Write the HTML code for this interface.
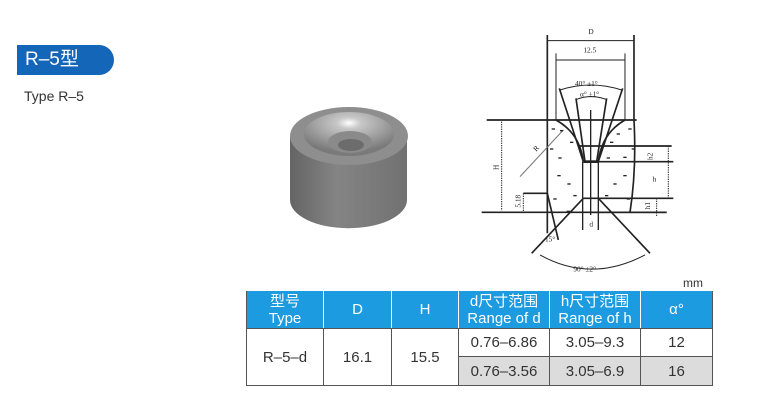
<!DOCTYPE html>
<html><head><meta charset="utf-8"><style>
html,body{margin:0;padding:0;background:#fff;width:780px;height:416px;overflow:hidden;position:relative;font-family:"Liberation Sans","Noto Sans CJK SC",sans-serif}
.badge{position:absolute;left:17px;top:45px;width:97px;height:30px;background:#1466b8;border-radius:0 16px 16px 0;color:#fff;font-size:19px;line-height:30px;padding-left:8px;box-sizing:border-box}
.sub{position:absolute;left:24px;top:88px;font-size:14px;color:#333}
table{position:absolute;left:246px;top:291px;border-collapse:collapse;font-size:15px;color:#333}
td{border:1px solid #555;text-align:center;padding:0}
th{background:#1d9be0;color:#fff;font-weight:normal;border:1px solid #fff;border-top:none;border-bottom:1px solid #555;font-size:15px;line-height:17px;height:37px;padding:0}
th:first-child{border-left:1px solid #555}th:last-child{border-right:1px solid #555}
.g{background:#dcdcdc}
.mm{position:absolute;left:683px;top:276px;font-size:12px;color:#333}
</style></head><body>
<div class="badge">R–5型</div>
<div class="sub">Type R–5</div>
<svg width="780" height="416" style="position:absolute;left:0;top:0">
<defs>
<linearGradient id="cy" x1="0" x2="1"><stop offset="0" stop-color="#646464"/><stop offset=".4" stop-color="#848484"/><stop offset="1" stop-color="#717171"/></linearGradient>
<radialGradient id="ins" cx=".5" cy=".25" r=".65"><stop offset="0" stop-color="#fff"/><stop offset=".2" stop-color="#c8c8c8"/><stop offset="1" stop-color="#7a7a7a"/></radialGradient>
</defs>
<path d="M290 136 L290 200 A58 28 0 0 0 407 200 L407 136 Z" fill="url(#cy)"/>
<ellipse cx="349" cy="136" rx="59" ry="29" fill="#8e8e8e"/>
<ellipse cx="349" cy="134" rx="45" ry="22" fill="url(#ins)"/>
<ellipse cx="350" cy="142" rx="22" ry="11" fill="#8a8a8a"/>
<ellipse cx="351" cy="145" rx="13" ry="6" fill="#6c6c6c"/>
<g transform="translate(470,20) scale(0.3333)" stroke="#222" stroke-width="5" fill="none">
<path d="M50 300H500M35 577H590M232 45V640M492 45V300M492 300 Q500 450 480 577"/>
<path d="M232 62H492M258 100V300M465 100V300M258 120H465" stroke-width="3"/>
<path d="M268 205L340 425M458 205L385 425M318 235L345 425M410 235L380 425"/>
<path d="M258 300Q330 340 340 425M465 300Q395 340 385 425"/>
<path d="M340 425H385" stroke-width="8"/>
<path d="M338 425V630M385 425V630M362 270V585" stroke-width="4"/>
<path d="M330 378H605M385 425H610M340 535H610M360 577H590"/>
<path d="M595 378V535M560 535V590M95 305V572M160 520V577" stroke-width="3" stroke-dasharray="4 3"/>
<path d="M340 535L185 700M385 535L540 700M160 520H232M232 520L265 660"/>
<path d="M210 705Q362 790 525 705" stroke-width="3"/>
<path d="M150 470L280 330" stroke-width="3" stroke="#777"/>
<path d="M270 210Q362 180 455 210M320 238Q362 222 408 238" stroke-width="3"/>
<g fill="#222" stroke="none" font-family="Liberation Serif" font-size="22">
<text x="355" y="42">D</text><text x="340" y="97">12.5</text>
<text x="315" y="198">40° ±1°</text><text x="330" y="230">α° ±1°</text>
<text x="65" y="450" transform="rotate(-90 75 440)">H</text>
<text x="190" y="395" transform="rotate(-45 195 385)">R</text>
<text x="525" y="412" transform="rotate(-90 540 405)">h2</text>
<text x="548" y="485">h</text>
<text x="522" y="560" transform="rotate(-90 535 555)">h1</text>
<text x="130" y="555" transform="rotate(-90 145 548)">5.18</text>
<text x="358" y="620">d</text><text x="225" y="665">15°</text>
<text x="310" y="755">90° ±2°</text>
<rect x="245" y="325" width="10" height="4"/><rect x="270" y="330" width="10" height="4"/><rect x="300" y="365" width="10" height="4"/><rect x="240" y="385" width="10" height="4"/><rect x="265" y="412" width="10" height="4"/><rect x="262" y="465" width="10" height="4"/><rect x="292" y="490" width="10" height="4"/><rect x="250" y="535" width="10" height="4"/><rect x="310" y="525" width="10" height="4"/><rect x="290" y="572" width="10" height="4"/><rect x="475" y="325" width="10" height="4"/><rect x="440" y="340" width="10" height="4"/><rect x="420" y="365" width="10" height="4"/><rect x="485" y="385" width="10" height="4"/><rect x="410" y="412" width="10" height="4"/><rect x="460" y="410" width="10" height="4"/><rect x="460" y="465" width="10" height="4"/><rect x="430" y="490" width="10" height="4"/><rect x="405" y="525" width="10" height="4"/><rect x="470" y="535" width="10" height="4"/>
</g></g>
</svg>
<div class="mm">mm</div>
<table>
<tr><th style="width:76px">型号<br>Type</th><th style="width:67px">D</th><th style="width:66px">H</th><th style="width:90px">d尺寸范围<br>Range of d</th><th style="width:90px">h尺寸范围<br>Range of h</th><th style="width:71px">α°</th></tr>
<tr style="height:28px"><td rowspan="2">R–5–d</td><td rowspan="2">16.1</td><td rowspan="2">15.5</td><td>0.76–6.86</td><td>3.05–9.3</td><td>12</td></tr>
<tr style="height:29px"><td class="g">0.76–3.56</td><td class="g">3.05–6.9</td><td class="g">16</td></tr>
</table>
</body></html>
